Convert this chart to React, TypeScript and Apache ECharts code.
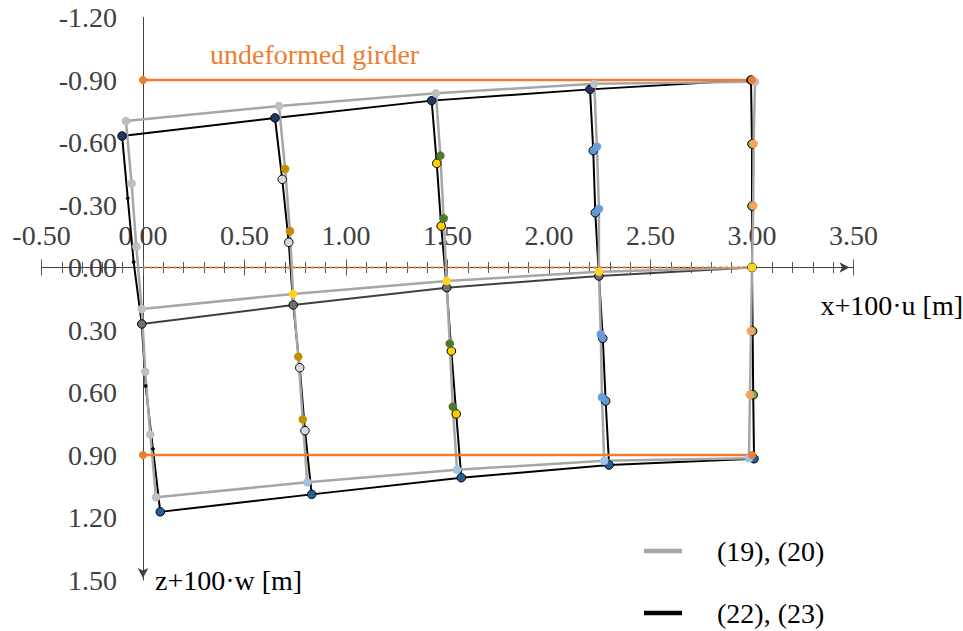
import React, { useEffect, useRef } from 'react';
import * as echarts from 'echarts';

// Deformed cross-sections, model (19),(20): [x+100·u, z+100·w], top flange -> bottom flange
const grey0 = [[-0.084, -0.703], [-0.056, -0.403], [-0.033, -0.1], [-0.006, 0.199], [0.011, 0.5], [0.036, 0.802], [0.064, 1.103]];
const grey1 = [[0.67, -0.775], [0.7, -0.473], [0.724, -0.175], [0.739, 0.127], [0.765, 0.428], [0.787, 0.729], [0.809, 1.031]];
const grey2 = [[1.443, -0.836], [1.465, -0.537], [1.481, -0.236], [1.496, 0.065], [1.511, 0.366], [1.526, 0.668], [1.547, 0.971]];
const grey3 = [[2.223, -0.882], [2.236, -0.58], [2.246, -0.281], [2.246, 0.02], [2.255, 0.321], [2.261, 0.623], [2.272, 0.928]];
const grey4 = [[3.015, -0.891], [3.008, -0.594], [3.006, -0.297], [3.0, 0.0], [2.995, 0.305], [2.99, 0.611], [2.985, 0.916]];

// Deformed cross-sections, model (22),(23)
const black0 = [[-0.103, -0.631], [-0.075, -0.332], [-0.046, -0.026], [-0.006, 0.271], [0.013, 0.569], [0.049, 0.871], [0.085, 1.173]];
const black1 = [[0.65, -0.718], [0.686, -0.423], [0.718, -0.121], [0.74, 0.18], [0.772, 0.481], [0.798, 0.783], [0.831, 1.089]];
const black2 = [[1.422, -0.801], [1.447, -0.5], [1.469, -0.199], [1.496, 0.097], [1.519, 0.401], [1.543, 0.703], [1.568, 1.009]];
const black3 = [[2.202, -0.855], [2.218, -0.561], [2.228, -0.263], [2.246, 0.041], [2.265, 0.34], [2.279, 0.641], [2.296, 0.948]];
const black4 = [[2.995, -0.9], [3.0, -0.593], [3.0, -0.295], [3.0, 0.0], [3.003, 0.305], [3.006, 0.611], [3.01, 0.918]];

// Undeformed girder
const undeformedTop = [[0, -0.9], [3, -0.9]];
const undeformedAxis = [[0, 0], [3, 0]];
const undeformedBottom = [[0, 0.9], [3, 0.9]];

// Axis ranges
const X_MIN = -0.5, X_MAX = 3.5, X_STEP = 0.5;
const Z_MIN = -1.2, Z_MAX = 1.5, Z_STEP = 0.3;

const legendNames = ['(19), (20)', '(22), (23)'];
const xAxisName = 'x+100·u [m]';
const zAxisName = 'z+100·w [m]';
const girderLabel = 'undeformed girder';

// marker styles (per section, per point from top to bottom)
const greyMarkerColors = [
  ['#BFBFBF', '#BFBFBF', '#BFBFBF', '#BFBFBF', '#BFBFBF', '#BFBFBF', '#BFBFBF'],
  ['#BFBFBF', '#BF9000', '#BF9000', '#FFD320', '#BF9000', '#BF9000', '#9DC3E6'],
  ['#BFBFBF', '#4E7A2E', '#4E7A2E', '#FFD320', '#4E7A2E', '#4E7A2E', '#9DC3E6'],
  ['#BFBFBF', '#6A9BDA', '#6A9BDA', '#FFD320', '#6A9BDA', '#6A9BDA', '#9DC3E6'],
  ['#BFBFBF', '#F4A460', '#F4A460', '#FFD320', '#F4A460', '#F4A460', '#9DC3E6'],
];
const blackMarkerColors = [
  ['#203864', '#000000', '#000000', '#6F6F6F', '#000000', '#000000', '#255E91'],
  ['#203864', '#D9D9D9', '#D9D9D9', '#6F6F6F', '#D9D9D9', '#D9D9D9', '#255E91'],
  ['#203864', '#FFD000', '#FFD000', '#6F6F6F', '#FFD000', '#FFD000', '#255E91'],
  ['#203864', '#5B9BD5', '#5B9BD5', '#6F6F6F', '#5B9BD5', '#5B9BD5', '#255E91'],
  ['#203864', '#70AD47', '#70AD47', '#6F6F6F', '#70AD47', '#70AD47', '#255E91'],
];

const FONT = '"Liberation Serif", "Times New Roman", serif';
const GREY = '#A6A6A6';
const ORANGE = '#ED7D31';

const GRID = { left: 41.5, top: 17.5, width: 812, height: 562.5 };

export default function App() {
  const ref = useRef<HTMLDivElement>(null);
  useEffect(() => {
    if (!ref.current) return;
    const chart = echarts.init(ref.current, null, { renderer: 'svg' });
    const greySections = [grey0, grey1, grey2, grey3, grey4];
    const blackSections = [black0, black1, black2, black3, black4];

    const sectionSeries = (name: string, sections: number[][][], colors: string[][], lineColor: string, width: number, border: boolean) =>
      sections.map((pts, s) => ({
        type: 'line',
        name,
        data: pts.map((p, i) => ({
          value: p,
          symbolSize: border && s === 0 && i !== 0 && i !== 3 && i !== 6 ? 3 : 8.5,
          itemStyle: { color: colors[s][i], borderColor: border ? '#000' : colors[s][i], borderWidth: border ? 1 : 0 },
        })),
        symbol: 'circle',
        showSymbol: true,
        lineStyle: { color: lineColor, width },
        itemStyle: { color: lineColor },
        emphasis: { disabled: true },
      }));

    const flangeSeries = (name: string, sections: number[][][], idx: number, color: string, width: number) => ({
      type: 'line',
      name,
      data: sections.map((pts) => pts[idx]),
      showSymbol: false,
      symbol: 'none',
      lineStyle: { color, width },
      itemStyle: { color },
      emphasis: { disabled: true },
    });

    const series: any[] = [
      flangeSeries(legendNames[1], blackSections, 0, '#000', 2),
      flangeSeries(legendNames[1], blackSections, 3, '#404040', 2),
      flangeSeries(legendNames[1], blackSections, 6, '#000', 2),
      ...sectionSeries(legendNames[1], blackSections, blackMarkerColors, '#000', 2, true),
      flangeSeries(legendNames[0], greySections, 0, GREY, 2.5),
      flangeSeries(legendNames[0], greySections, 3, GREY, 2.5),
      flangeSeries(legendNames[0], greySections, 6, GREY, 2.5),
      ...sectionSeries(legendNames[0], greySections, greyMarkerColors, GREY, 2.5, false),
      {
        type: 'line', name: girderLabel, data: undeformedTop, symbol: 'circle', symbolSize: 8,
        lineStyle: { color: ORANGE, width: 2.5 }, itemStyle: { color: ORANGE }, emphasis: { disabled: true },
      },
      {
        type: 'line', name: girderLabel, data: undeformedBottom, symbol: 'circle', symbolSize: 8,
        lineStyle: { color: ORANGE, width: 2.5 }, itemStyle: { color: ORANGE }, emphasis: { disabled: true },
      },
      {
        type: 'line', name: girderLabel, data: undeformedAxis, showSymbol: false, symbol: 'none',
        lineStyle: { color: ORANGE, width: 2, type: [3, 3] }, itemStyle: { color: ORANGE }, emphasis: { disabled: true },
      },
    ];

    const tickFmt = (v: number) => {
      const s = v.toFixed(2);
      return s === '-0.00' ? '0.00' : s;
    };

    // axes cross at zero: shift them from the grid edges to the zero lines
    const yAxisShift = -GRID.width * (0 - X_MIN) / (X_MAX - X_MIN);
    const xAxisShiftBottom = -GRID.height * (Z_MAX - 0) / (Z_MAX - Z_MIN);
    const xAxisShiftTop = -GRID.height * (0 - Z_MIN) / (Z_MAX - Z_MIN);

    const legendCommon = {
      orient: 'vertical',
      left: 639,
      itemWidth: 38,
      itemHeight: 4.5,
      selectedMode: false,
      textStyle: { fontFamily: FONT, fontSize: 28, color: '#000', padding: [0, 0, 0, 30] },
    };

    chart.setOption({
      animation: false,
      backgroundColor: '#ffffff',
      grid: { ...GRID, containLabel: false, outerBoundsMode: 'none' },
      legend: [
        { ...legendCommon, top: 532, data: [{ name: legendNames[0], icon: 'rect', itemStyle: { color: GREY, borderWidth: 0 } }] },
        { ...legendCommon, top: 594, data: [{ name: legendNames[1], icon: 'rect', itemStyle: { color: '#000000', borderWidth: 0 } }] },
      ],
      xAxis: [
        {
          type: 'value', min: X_MIN, max: X_MAX, interval: X_STEP, position: 'bottom', offset: xAxisShiftBottom,
          axisLine: {
            onZero: false, symbol: ['none', 'arrow'], symbolSize: [8, 10], symbolOffset: [0, -4],
            lineStyle: { color: '#404040', width: 1 },
          },
          axisTick: { show: true, length: 8, lineStyle: { color: '#595959' } },
          minorTick: { show: true, splitNumber: 5, length: 5.5, lineStyle: { color: '#595959' } },
          axisLabel: { inside: true, margin: 18.5, formatter: tickFmt, color: '#404040', fontSize: 28, fontFamily: FONT, showMinLabel: true, showMaxLabel: true },
          splitLine: { show: false },
          minorSplitLine: { show: false },
          name: xAxisName,
          nameLocation: 'end',
          nameGap: -33,
          nameTextStyle: { fontFamily: FONT, fontSize: 28, color: '#000', align: 'left', verticalAlign: 'top', padding: [24, 0, 0, 0] },
        },
        {
          type: 'value', min: X_MIN, max: X_MAX, interval: X_STEP, position: 'top', offset: xAxisShiftTop,
          axisLine: { show: false, onZero: false },
          axisTick: { show: true, length: 8, lineStyle: { color: '#595959' } },
          minorTick: { show: true, splitNumber: 5, length: 5.5, lineStyle: { color: '#595959' } },
          axisLabel: { show: false },
          splitLine: { show: false },
          minorSplitLine: { show: false },
        },
      ],
      yAxis: {
        type: 'value', inverse: true, min: Z_MIN, max: Z_MAX, interval: Z_STEP, position: 'left', offset: yAxisShift,
        axisLine: {
          onZero: false, symbol: ['arrow', 'none'], symbolSize: [8, 10], symbolOffset: [2, 0],
          lineStyle: { color: '#404040', width: 1 },
        },
        axisTick: { show: false },
        axisLabel: { margin: 26, formatter: tickFmt, color: '#404040', fontSize: 28, fontFamily: FONT },
        splitLine: { show: false },
        name: zAxisName,
        nameLocation: 'end',
        nameGap: 0,
        nameTextStyle: { fontFamily: FONT, fontSize: 28, color: '#000', align: 'left', verticalAlign: 'middle', padding: [0, 0, 0, 12] },
      },
      graphic: [
        {
          type: 'text', left: 210, top: 40,
          style: { text: girderLabel, fill: ORANGE, font: `28px ${FONT}` },
        },
      ],
      series,
    });
    return () => chart.dispose();
  }, []);
  return <div ref={ref} style={{ position: 'fixed', left: 0, top: 0, width: 963, height: 631 }} />;
}
